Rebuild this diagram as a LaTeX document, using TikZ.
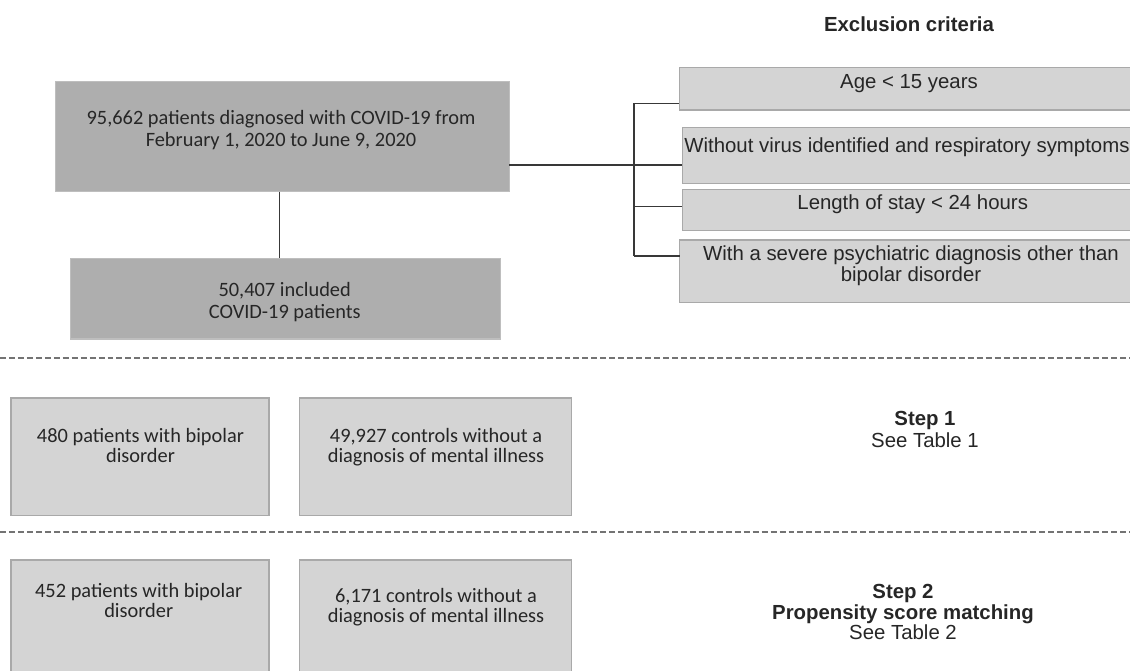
\documentclass[tikz,border=0pt]{standalone}
\usepackage{fontspec}
\setmainfont{Carlito}
\newfontfamily\arialfont{Liberation Sans}

\definecolor{darkcell}{HTML}{AEAEAE}
\definecolor{darkedge}{HTML}{BEBEBE}
\definecolor{lightcell}{HTML}{D4D4D4}
\definecolor{lightedge}{HTML}{A9A9A9}
\newcommand{\linecolor}{black!78}
\newcommand{\dashcolor}{black!55}
\newcommand{\trunkx}{634}

\begin{document}
\begin{tikzpicture}[x=0.02cm,y=-0.02cm,
  darkbox/.style={rectangle, fill=darkcell, draw=darkedge, line width=0.6pt, inner sep=0pt, outer sep=0pt},
  lightbox/.style={rectangle, fill=lightcell, draw=lightedge, line width=0.6pt, inner sep=0pt, outer sep=0pt},
  link/.style={draw=\linecolor, line width=0.75pt},
  sep/.style={draw=\dashcolor, line width=0.6pt, dash pattern=on 3.4pt off 1.7pt},
  boxtext/.style={anchor=base, align=center, inner sep=0pt, text=black!85, font=\fontsize{11.6}{12.5}\selectfont},
  steptext/.style={anchor=base, align=center, inner sep=0pt, text=black!85, font=\fontsize{11.6}{11.9}\selectfont},
  crittext/.style={anchor=base, align=center, inner sep=0pt, text=black!85, font=\arialfont\fontsize{11.6}{12.5}\selectfont},
  notetext/.style={anchor=base, align=center, inner sep=0pt, text=black!85, font=\arialfont\fontsize{11.6}{13}\selectfont}]

\useasboundingbox (0,0) rectangle (1130,671);
\clip (0,0) rectangle (1130,671);

% cohort and inclusion
\node[darkbox, minimum width=9.066cm, minimum height=2.2cm] (cohort) at (282.55,136.7) {};
\node[darkbox, minimum width=8.598cm, minimum height=1.614cm] (included) at (285.25,298.65) {};
\node[boxtext] (cohortT) at (281,146.5) {95,662 patients diagnosed with COVID-19 from\\February 1, 2020 to June 9, 2020};
\node[boxtext, font=\fontsize{11.6}{13}\selectfont] (includedT) at (284.7,319) {50,407 included\\COVID-19 patients};

\draw[link] (cohort.south -| 279.3,0) -- (included.north -| 279.3,0);

% exclusion criteria
\node[crittext, font=\arialfont\bfseries\fontsize{11.6}{12.5}\selectfont] (exclT) at (909,32) {Exclusion criteria};

\node[lightbox, minimum width=9.216cm, minimum height=0.846cm] (age) at (909.6,88.85) {};
\node[lightbox, minimum width=9.16cm, minimum height=1.12cm] (virus) at (911,155.3) {};
\node[lightbox, minimum width=9.16cm, minimum height=0.828cm] (stay) at (911,210) {};
\node[lightbox, minimum width=9.208cm, minimum height=1.254cm] (psych) at (909.8,271.35) {};

\node[crittext] (ageT) at (909,89) {Age < 15 years};
\node[crittext, anchor=base west] (virusT) at (684,153) {Without virus identified and respiratory symptoms};
\node[crittext] (stayT) at (912.7,210) {Length of stay < 24 hours};
\node[crittext] (psychT) at (911,282) {With a severe psychiatric diagnosis other than\\bipolar disorder};

\coordinate (b1) at (\trunkx,103.3);
\coordinate (b2) at (\trunkx,165);
\coordinate (b3) at (\trunkx,206.7);
\coordinate (b4) at (\trunkx,256);

\draw[link] (b2 -| cohort.east) -- (b2 -| virus.west);
\draw[link] (b1) -- (b4);
\draw[link] (b1) -- (b1 -| age.west);
\draw[link] (b3) -- (b3 -| stay.west);
\draw[link] (b4) -- (b4 -| psych.west);

\draw[sep] (0,358) -- (1130,358);

% step 1
\node[lightbox, minimum width=5.16cm, minimum height=2.35cm] (bipolarA) at (140,456.75) {};
\node[lightbox, minimum width=5.44cm, minimum height=2.35cm] (controlsA) at (435.5,456.75) {};
\node[steptext] (bipolarAT) at (140.5,463) {480 patients with bipolar\\disorder};
\node[steptext] (controlsAT) at (436,463) {49,927 controls without a\\diagnosis of mental illness};
\node[notetext] (stepA) at (925,448) {\textbf{Step 1}\\See Table 1};

\draw[sep] (0,532) -- (1130,532);

% step 2
\node[lightbox, minimum width=5.16cm, minimum height=2.8cm] (bipolarB) at (140,630) {};
\node[lightbox, minimum width=5.44cm, minimum height=2.8cm] (controlsB) at (435.5,630) {};
\node[steptext] (bipolarBT) at (138.7,618) {452 patients with bipolar\\disorder};
\node[steptext] (controlsBT) at (436,623) {6,171 controls without a\\diagnosis of mental illness};
\node[notetext, font=\arialfont\fontsize{11.6}{11.9}\selectfont] (stepB) at (903,640) {\textbf{Step 2}\\\textbf{Propensity score matching}\\See Table 2};

\end{tikzpicture}
\end{document}
